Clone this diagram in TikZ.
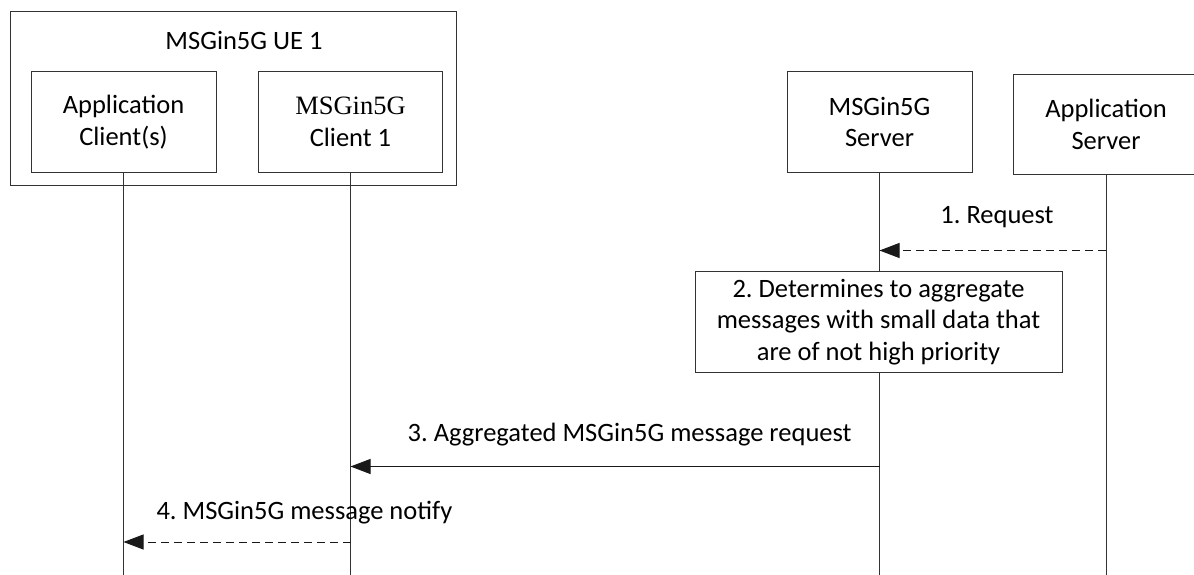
\documentclass[tikz,border=0pt]{standalone}
\usepackage{fontspec}
\setmainfont{Carlito}
\newfontfamily\tnr{Liberation Serif}
\usetikzlibrary{arrows.meta}
\frenchspacing
\begin{document}
\begin{tikzpicture}[x=1pt,y=-1pt,
  font=\fontsize{26.5}{31.5}\selectfont,
  line width=1pt,
  entity/.style={draw=black!80, fill=white, inner sep=0pt, align=center, text=black},
  lifeline/.style={draw=black!80},
  msg/.style={draw=black!90, -{Triangle[length=20pt,width=15pt]}},
  dmsg/.style={msg, dash pattern=on 8pt off 5pt},
  lbl/.style={inner sep=0pt, anchor=base, text=black}]
\useasboundingbox (0,0) rectangle (1194,575);

% UE container
\node[entity, minimum width=446pt, minimum height=173pt] (ue) at (233,98.5) {};
\node[lbl] (uet) at (244,50) {MSGin5G UE 1};

% entities
\node[entity, minimum width=185pt, minimum height=100pt] (appc) at (123.5,122) {Application\\Client(s)};
\node[entity, minimum width=184pt, minimum height=100pt] (cl1) at (350.5,122) {{\tnr MSGin5G}\\Client 1};
\node[entity, minimum width=185pt, minimum height=100pt] (srv) at (879.5,122) {MSGin5G\\Server};
\node[entity, minimum width=186pt, minimum height=99pt] (as) at (1106,124.5) {Application\\Server};

% lifeline ends
\coordinate (appcEnd) at (appc.south |- 0,575);
\coordinate (cl1End) at (cl1.south |- 0,575);
\coordinate (srvEnd) at (srv.south |- 0,575);
\coordinate (asEnd) at (as.south |- 0,575);

\draw[lifeline] (appc.south) -- (appcEnd);
\draw[lifeline] (cl1.south) -- (cl1End);
\draw[lifeline] (srv.south) -- (srvEnd);
\draw[lifeline] (as.south) -- (asEnd);

% step 1
\coordinate (m1a) at (as.south |- 0,250.5);
\coordinate (m1b) at (srv.south |- 0,250.5);
\draw[dmsg] (m1a) -- (m1b);
\node[lbl] (l1) at (997,223) {1. Request};

% step 2
\node[entity, minimum width=367pt, minimum height=101pt] (step2) at (878.5,322) {2. Determines to aggregate\\messages with small data that\\are of not high priority};

% step 3
\coordinate (m3a) at (srv.south |- 0,466.5);
\coordinate (m3b) at (cl1.south |- 0,466.5);
\draw[msg] (m3a) -- (m3b);
\node[lbl, anchor=base east] (l3) at (852,441) {3. Aggregated MSGin5G message request};

% step 4
\coordinate (m4a) at (cl1.south |- 0,542);
\coordinate (m4b) at (appc.south |- 0,542);
\draw[dmsg] (m4a) -- (m4b);
\node[lbl, anchor=base west] (l4) at (156,519) {4. MSGin5G message notify};
\end{tikzpicture}
\end{document}
